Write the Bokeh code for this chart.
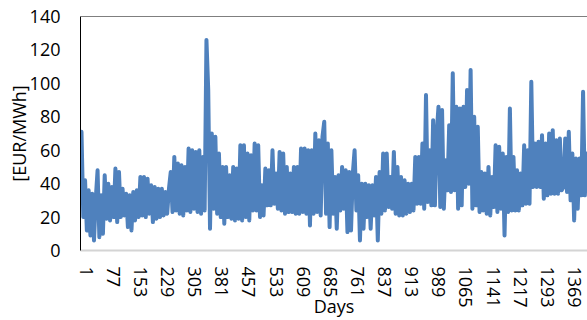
from bokeh.plotting import figure
from bokeh.models import Range1d, FixedTicker, Span
from bokeh.embed import file_html
from bokeh.resources import INLINE

# x tick labels (day numbers shown on the category axis)
tick_days = [1, 77, 153, 229, 305, 381, 457, 533, 609, 685, 761, 837, 913,
             989, 1065, 1141, 1217, 1293, 1369]
y_ticks = [0, 20, 40, 60, 80, 100, 120, 140]

# daily price readings (EUR/MWh), read every 5th day off the picture
step = 5
prices = [
    71, 20, 42, 12, 36, 9, 34, 6, 31, 48,
    8, 33, 10, 45, 19, 40, 18, 38, 20, 49,
    17, 47, 20, 37, 21, 34, 14, 33, 12, 35,
    18, 36, 20, 44, 21, 44, 20, 43, 22, 39,
    17, 38, 19, 37, 20, 37, 21, 35, 22, 37,
    47, 23, 56, 24, 52, 22, 51, 21, 50, 24,
    61, 23, 60, 25, 59, 23, 60, 22, 56, 24,
    126, 96, 13, 70, 25, 68, 22, 58, 20, 50,
    16, 50, 20, 45, 19, 50, 18, 49, 19, 63,
    18, 63, 20, 58, 18, 57, 24, 64, 24, 63,
    20, 39, 21, 49, 27, 48, 27, 60, 28, 46,
    25, 59, 24, 58, 22, 50, 23, 46, 23, 50,
    22, 50, 22, 61, 23, 61, 22, 60, 15, 60,
    22, 70, 23, 66, 21, 68, 77, 22, 64, 14,
    60, 22, 44, 13, 45, 24, 50, 25, 48, 11,
    47, 12, 46, 60, 24, 45, 6, 40, 13, 40,
    20, 39, 13, 39, 21, 44, 6, 47, 22, 58,
    24, 58, 26, 44, 25, 59, 22, 50, 21, 44,
    21, 42, 22, 40, 23, 40, 24, 56, 28, 56,
    28, 64, 25, 93, 29, 60, 27, 78, 27, 70,
    86, 26, 84, 25, 54, 36, 75, 35, 106, 36,
    86, 25, 85, 27, 86, 38, 96, 40, 108, 25,
    80, 27, 74, 23, 47, 24, 46, 22, 50, 21,
    44, 26, 63, 23, 62, 25, 58, 9, 56, 23,
    85, 24, 56, 24, 48, 24, 46, 27, 63, 28,
    60, 28, 101, 38, 64, 38, 65, 38, 69, 31,
    64, 33, 70, 34, 72, 34, 66, 34, 67, 36,
    38, 67, 35, 71, 30, 58, 18, 55, 25, 55,
    33, 95, 33, 58,
]
days = list(range(1, 1 + step * len(prices), step))

FONT = "Open Sans"
LABEL_SHIFT = 13  # rotated category labels sit slightly right of their day

p = figure(width=587, height=320, output_backend="svg", toolbar_location=None,
           x_range=Range1d(-1.8, 1418.4), y_range=Range1d(0, 140),
           min_border_left=80, min_border_right=0, min_border_top=16,
           min_border_bottom=70)
p.background_fill_color = "white"
p.border_fill_color = "white"
p.outline_line_color = None
p.xgrid.grid_line_color = None
p.ygrid.grid_line_color = None

p.line(days, prices, line_color="#4F81BD", line_width=4,
       line_join="round", line_cap="round")

p.add_layout(Span(location=140, dimension="width", line_color="black", line_width=1))

# y axis
ya = p.yaxis[0]
ya.ticker = FixedTicker(ticks=y_ticks)
ya.axis_line_color = "black"
ya.axis_line_width = 1
ya.major_tick_line_color = None
ya.minor_tick_line_color = None
ya.major_tick_out = 0
ya.major_tick_in = 0
ya.major_label_standoff = 20
ya.major_label_text_font = FONT
ya.major_label_text_font_size = "18px"
ya.major_label_text_color = "black"
ya.axis_label = "[EUR/MWh]"
ya.axis_label_text_font = FONT
ya.axis_label_text_font_size = "18px"
ya.axis_label_text_font_style = "normal"
ya.axis_label_text_color = "black"
ya.axis_label_standoff = -4

# x axis
xa = p.xaxis[0]
shifted = [d + LABEL_SHIFT for d in tick_days]
xa.ticker = FixedTicker(ticks=shifted)
xa.major_label_overrides = {s: str(d) for s, d in zip(shifted, tick_days)}
xa.axis_line_color = "#d4d4d4"
xa.axis_line_width = 2
xa.major_tick_line_color = None
xa.minor_tick_line_color = None
xa.major_tick_out = 0
xa.major_tick_in = 0
xa.major_label_orientation = "vertical"
xa.major_label_standoff = 16
xa.major_label_text_font = FONT
xa.major_label_text_font_size = "18px"
xa.major_label_text_color = "black"
xa.axis_label = "Days"
xa.axis_label_text_font = FONT
xa.axis_label_text_font_size = "18px"
xa.axis_label_text_font_style = "normal"
xa.axis_label_text_color = "black"
xa.axis_label_standoff = -17

open("out.html", "w").write(file_html(p, INLINE))
